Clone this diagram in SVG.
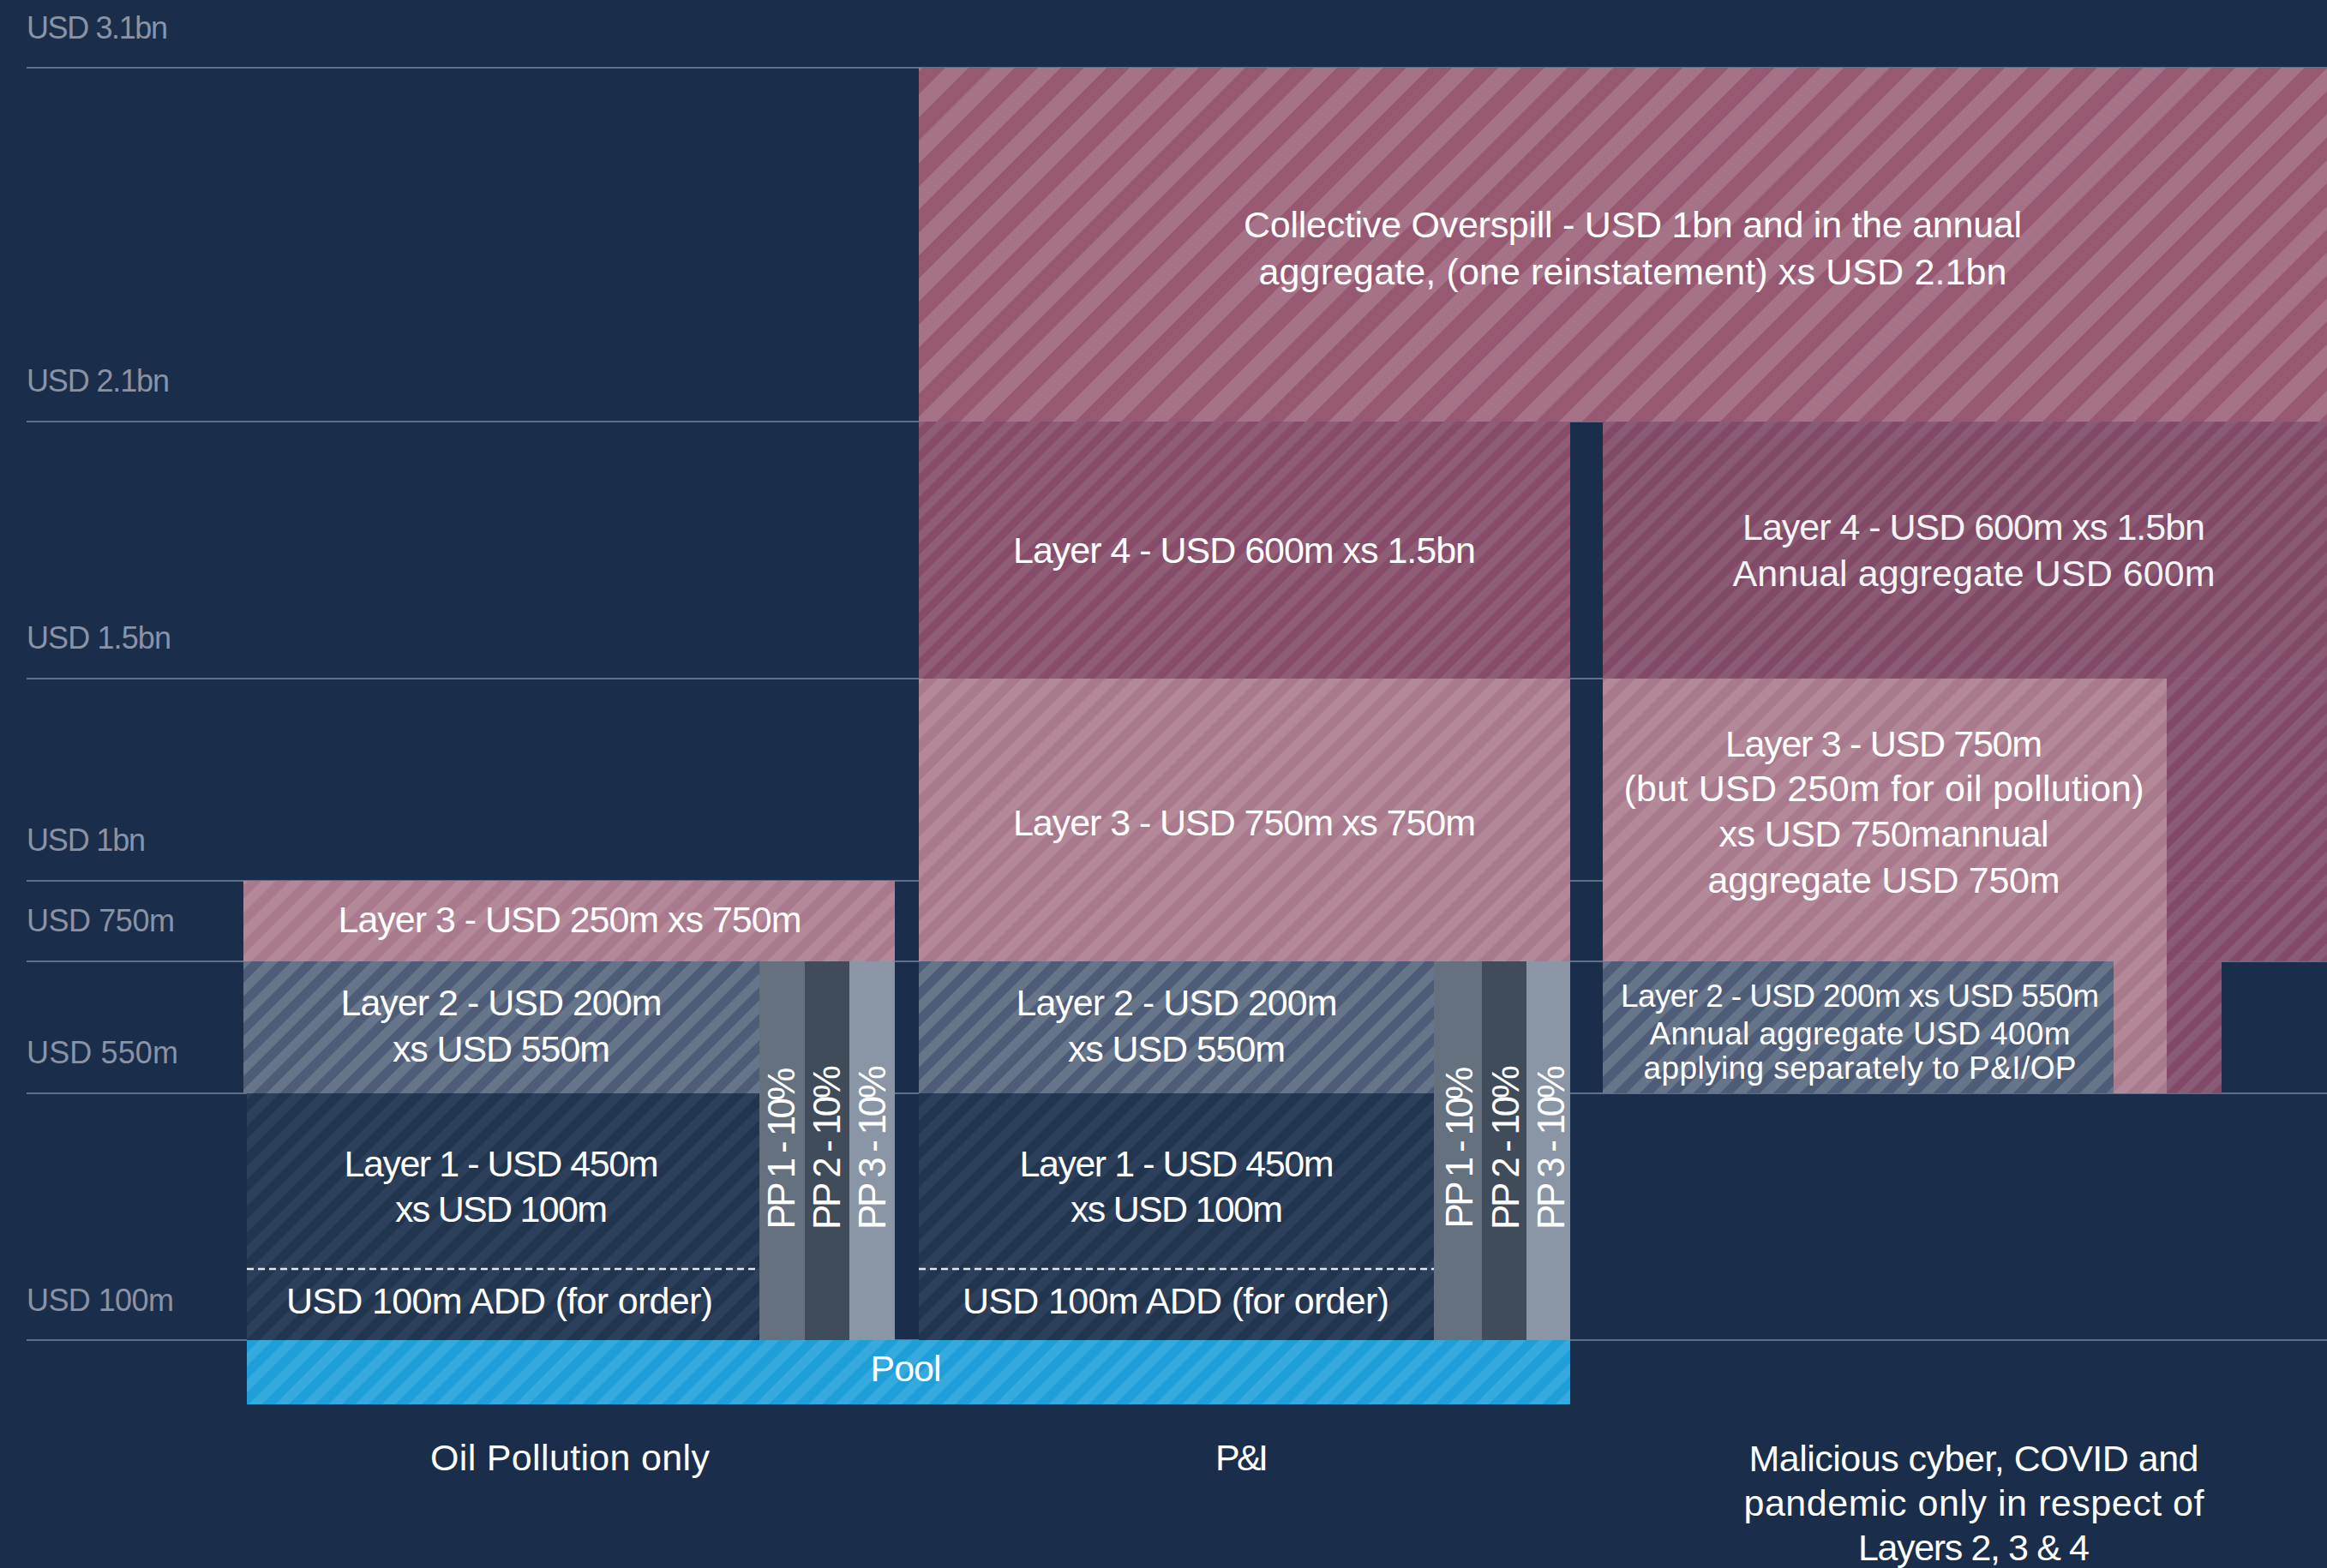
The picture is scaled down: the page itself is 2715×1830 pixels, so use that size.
<svg xmlns="http://www.w3.org/2000/svg" width="2715" height="1830" viewBox="0 0 2715 1830">
<defs>
<pattern id="pOver" patternUnits="userSpaceOnUse" width="38" height="38" patternTransform="rotate(45)"><rect width="38" height="38" fill="#975872"/><rect width="19" height="38" fill="#a67287"/></pattern>
<pattern id="pL4" patternUnits="userSpaceOnUse" width="19" height="19" patternTransform="rotate(45)"><rect width="19" height="19" fill="#874c69"/><rect width="9.5" height="19" fill="#905d76"/></pattern>
<pattern id="pL3" patternUnits="userSpaceOnUse" width="23" height="23" patternTransform="rotate(45)"><rect width="23" height="23" fill="#a97a8e"/><rect width="11.5" height="23" fill="#b38899"/></pattern>
<pattern id="pL2" patternUnits="userSpaceOnUse" width="22" height="22" patternTransform="rotate(45)"><rect width="22" height="22" fill="#4e5c77"/><rect width="11" height="22" fill="#67758b"/></pattern>
<pattern id="pL1" patternUnits="userSpaceOnUse" width="22" height="22" patternTransform="rotate(45)"><rect width="22" height="22" fill="#22354f"/><rect width="11" height="22" fill="#2d405b"/></pattern>
<pattern id="pPool" patternUnits="userSpaceOnUse" width="22" height="22" patternTransform="rotate(45)"><rect width="22" height="22" fill="#1e9fd9"/><rect width="11" height="22" fill="#36aade"/></pattern>
</defs>
<style>
.t{font-family:"Liberation Sans",Arial,sans-serif;fill:#ffffff;font-size:43px;text-anchor:middle}
.s{font-size:37px}
.pp{font-size:44px}
.ax{font-family:"Liberation Sans",Arial,sans-serif;fill:#8a92a6;font-size:36px}
.grid{stroke:#5f6f8a;stroke-width:2}
.dash{stroke:#e4e8ee;stroke-width:2.5;stroke-dasharray:8 5}
</style>
<rect width="2715" height="1830" fill="#1a2d4a"/>

<g id="gridlines">
<line class="grid" x1="31" y1="79" x2="2715" y2="79" stroke="#8796ab"/>
<line class="grid" x1="31" y1="492" x2="2715" y2="492"/>
<line class="grid" x1="31" y1="792" x2="2715" y2="792"/>
<line class="grid" x1="31" y1="1028" x2="2715" y2="1028"/>
<line class="grid" x1="31" y1="1122" x2="2715" y2="1122"/>
<line class="grid" x1="31" y1="1276" x2="2715" y2="1276"/>
<line class="grid" x1="31" y1="1564" x2="2715" y2="1564"/>
</g>

<g id="axis-labels">
<text class="ax" x="31" y="45" textLength="165" lengthAdjust="spacing">USD 3.1bn</text>
<text class="ax" x="31" y="457" textLength="167" lengthAdjust="spacing">USD 2.1bn</text>
<text class="ax" x="31" y="757" textLength="169" lengthAdjust="spacing">USD 1.5bn</text>
<text class="ax" x="31" y="993" textLength="139" lengthAdjust="spacing">USD 1bn</text>
<text class="ax" x="31" y="1087" textLength="173" lengthAdjust="spacing">USD 750m</text>
<text class="ax" x="31" y="1241" textLength="177" lengthAdjust="spacing">USD 550m</text>
<text class="ax" x="31" y="1530" textLength="172" lengthAdjust="spacing">USD 100m</text>
</g>

<g id="collective-overspill">
<rect x="1072" y="79" width="1643" height="413" fill="url(#pOver)"/>
<text class="t" x="1905" y="277" textLength="908" lengthAdjust="spacing">Collective Overspill - USD 1bn and in the annual</text>
<text class="t" x="1905" y="332" textLength="873" lengthAdjust="spacing">aggregate, (one reinstatement) xs USD 2.1bn</text>
</g>

<g id="layer4-pi">
<rect x="1072" y="492" width="760" height="300" fill="url(#pL4)"/>
<text class="t" x="1452" y="657" textLength="540" lengthAdjust="spacing">Layer 4 - USD 600m xs 1.5bn</text>
</g>

<g id="layer4-cyber" opacity="0.95">
<path d="M1870 492 H2715 V1122 H2592 V1276 H1870 Z" fill="url(#pL4)"/>
<text class="t" x="2303" y="630" textLength="540" lengthAdjust="spacing">Layer 4 - USD 600m xs 1.5bn</text>
<text class="t" x="2303" y="684" textLength="563" lengthAdjust="spacing">Annual aggregate USD 600m</text>
</g>

<g id="layer3-pi">
<rect x="1072" y="792" width="760" height="330" fill="url(#pL3)"/>
<text class="t" x="1452" y="975" textLength="540" lengthAdjust="spacing">Layer 3 - USD 750m xs 750m</text>
</g>

<g id="layer3-cyber">
<rect x="1870" y="792" width="658" height="484" fill="url(#pL3)"/>
<text class="t" x="2198" y="883" textLength="370" lengthAdjust="spacing">Layer 3 - USD 750m</text>
<text class="t" x="2198" y="935" textLength="607" lengthAdjust="spacing">(but USD 250m for oil pollution)</text>
<text class="t" x="2198" y="988" textLength="385" lengthAdjust="spacing">xs USD 750mannual</text>
<text class="t" x="2198" y="1042" textLength="411" lengthAdjust="spacing">aggregate USD 750m</text>
</g>

<g id="layer3-op">
<rect x="284" y="1028" width="760" height="94" fill="url(#pL3)"/>
<text class="t" x="665" y="1088" textLength="541" lengthAdjust="spacing">Layer 3 - USD 250m xs 750m</text>
</g>

<g id="layer2-op">
<rect x="284" y="1122" width="602" height="154" fill="url(#pL2)"/>
<text class="t" x="585" y="1185" textLength="375" lengthAdjust="spacing">Layer 2 - USD 200m</text>
<text class="t" x="585" y="1239" textLength="254" lengthAdjust="spacing">xs USD 550m</text>
</g>

<g id="layer2-pi">
<rect x="1072" y="1122" width="601" height="154" fill="url(#pL2)"/>
<text class="t" x="1373" y="1185" textLength="375" lengthAdjust="spacing">Layer 2 - USD 200m</text>
<text class="t" x="1373" y="1239" textLength="254" lengthAdjust="spacing">xs USD 550m</text>
</g>

<g id="layer2-cyber">
<rect x="1870" y="1122" width="596" height="154" fill="url(#pL2)"/>
<text class="t s" x="2170" y="1175" textLength="558" lengthAdjust="spacing">Layer 2 - USD 200m xs USD 550m</text>
<text class="t s" x="2170" y="1219" textLength="491" lengthAdjust="spacing">Annual aggregate USD 400m</text>
<text class="t s" x="2170" y="1259" textLength="505" lengthAdjust="spacing">applying separately to P&amp;I/OP</text>
</g>

<g id="layer1-op">
<rect x="288" y="1276" width="598" height="288" fill="url(#pL1)"/>
<text class="t" x="585" y="1373" textLength="367" lengthAdjust="spacing">Layer 1 - USD 450m</text>
<text class="t" x="585" y="1426" textLength="248" lengthAdjust="spacing">xs USD 100m</text>
<line class="dash" x1="288" y1="1481" x2="886" y2="1481"/>
<text class="t" x="583" y="1533" textLength="498" lengthAdjust="spacing">USD 100m ADD (for order)</text>
</g>

<g id="layer1-pi">
<rect x="1072" y="1276" width="601" height="288" fill="url(#pL1)"/>
<text class="t" x="1373" y="1373" textLength="367" lengthAdjust="spacing">Layer 1 - USD 450m</text>
<text class="t" x="1373" y="1426" textLength="248" lengthAdjust="spacing">xs USD 100m</text>
<line class="dash" x1="1072" y1="1481" x2="1673" y2="1481"/>
<text class="t" x="1372" y="1533" textLength="498" lengthAdjust="spacing">USD 100m ADD (for order)</text>
</g>

<g id="pp1-op">
<rect x="886" y="1122" width="53" height="442" fill="#65717f"/>
<text class="t pp" transform="translate(927,1340) rotate(-90)" textLength="189" lengthAdjust="spacing">PP 1 - 10%</text>
</g>
<g id="pp2-op">
<rect x="939" y="1122" width="52" height="442" fill="#414c5a"/>
<text class="t pp" transform="translate(980,1339) rotate(-90)" textLength="192" lengthAdjust="spacing">PP 2 - 10%</text>
</g>
<g id="pp3-op">
<rect x="991" y="1122" width="53" height="442" fill="#8a96a5"/>
<text class="t pp" transform="translate(1033,1339) rotate(-90)" textLength="192" lengthAdjust="spacing">PP 3 - 10%</text>
</g>

<g id="pp1-pi">
<rect x="1673" y="1122" width="56" height="442" fill="#65717f"/>
<text class="t pp" transform="translate(1718,1339) rotate(-90)" textLength="189" lengthAdjust="spacing">PP 1 - 10%</text>
</g>
<g id="pp2-pi">
<rect x="1729" y="1122" width="52" height="442" fill="#414c5a"/>
<text class="t pp" transform="translate(1772,1339) rotate(-90)" textLength="192" lengthAdjust="spacing">PP 2 - 10%</text>
</g>
<g id="pp3-pi">
<rect x="1781" y="1122" width="51" height="442" fill="#8a96a5"/>
<text class="t pp" transform="translate(1825,1339) rotate(-90)" textLength="192" lengthAdjust="spacing">PP 3 - 10%</text>
</g>

<g id="pool">
<rect x="288" y="1564" width="1544" height="75" fill="url(#pPool)"/>
<text class="t" x="1057" y="1612" textLength="83" lengthAdjust="spacing">Pool</text>
</g>

<g id="column-labels">
<text class="t" x="665" y="1716" textLength="326" lengthAdjust="spacing">Oil Pollution only</text>
<text class="t" x="1449" y="1716" textLength="62" lengthAdjust="spacing">P&amp;I</text>
<text class="t" x="2303" y="1717" textLength="525" lengthAdjust="spacing">Malicious cyber, COVID and</text>
<text class="t" x="2303" y="1769" textLength="537" lengthAdjust="spacing">pandemic only in respect of</text>
<text class="t" x="2303" y="1821" textLength="270" lengthAdjust="spacing">Layers 2, 3 &amp; 4</text>
</g>
</svg>
